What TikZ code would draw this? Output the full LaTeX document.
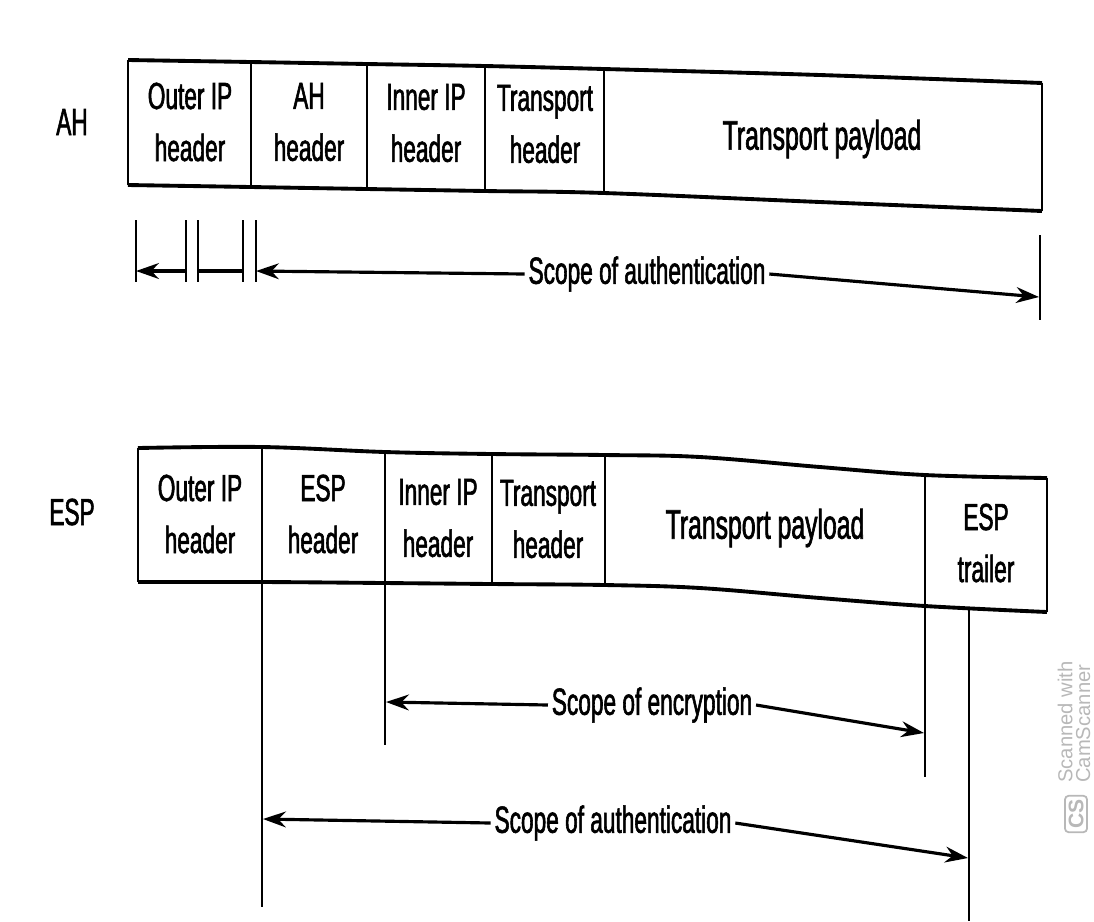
\documentclass[tikz,border=0pt]{standalone}
\usepackage{fontspec}
\setmainfont{Liberation Sans}[FakeStretch=0.6, FakeBold=1.5]
\newfontfamily\wmfont{Liberation Sans}
\usetikzlibrary{arrows.meta}

\begin{document}
\begin{tikzpicture}[x=0.02cm, y=-0.02cm,
    every node/.style={font=\fontsize{21.5}{29.6}\selectfont, inner sep=2pt},
    cell/.style={align=center},
    payload/.style={font=\fontsize{23.5}{28}\selectfont},
    rim/.style={line width=2.2pt},
    wall/.style={line width=1.1pt},
    guide/.style={line width=1.1pt},
    scopeline/.style={line width=1.8pt},
    scopearrow/.style={scopeline, -{Stealth[length=13pt,width=9pt]}}
  ]
  \useasboundingbox (0,0) rectangle (1094,921);

  % AH packet
  \foreach \n/\x/\t/\b in {0/128/60/185, 1/251/62/187, 2/367/64/189,
                           3/485/66/191, 4/604/69/193, 5/1042/83/211} {
    \coordinate (aht\n) at (\x,\t);
    \coordinate (ahb\n) at (\x,\b);
  }
  \draw[rim] plot[smooth, tension=.6] coordinates {(aht0) (aht1) (aht2) (aht3) (aht4) (820,75) (aht5)};
  \draw[rim] plot[smooth, tension=.6] coordinates {(ahb0) (ahb1) (ahb2) (ahb3) (ahb4) (820,202) (ahb5)};
  \foreach \n in {0,...,5} \draw[wall] (aht\n) -- (ahb\n);

  \node (ahlabel) at (72,122) {AH};
  \node[cell] (ahouter) at (190,122) {Outer IP\\header};
  \node[cell] (ahhdr) at (309,122) {AH\\header};
  \node[cell] (ahinner) at (426,123) {Inner IP\\header};
  \node[cell] (ahtrans) at (545,124) {Transport\\header};
  \node[payload] (ahpay) at (822,139) {Transport payload};

  % AH scope
  \foreach \x in {136,186,198,243,256} {
    \draw[guide] (\x,220) -- (\x,282);
    \coordinate (k\x) at (\x,271);
  }
  \draw[guide] (1040,235) -- (1040,320);
  \coordinate (kr) at (1039,297);
  \node (ahscope) at (647,274) {Scope of authentication};
  \draw[scopearrow] (ahscope.west) -- (k256);
  \draw[scopeline] (k243) -- (k198);
  \draw[scopearrow] (k186) -- (k136);
  \draw[scopearrow] (ahscope.east) -- (kr);

  % ESP packet
  \foreach \n/\x/\t/\b in {0/138/448/582, 1/262/447/582, 2/385/452/583, 3/492/454/584,
                           4/605/455/585, 5/925/475/606, 6/1047/478/612} {
    \coordinate (espt\n) at (\x,\t);
    \coordinate (espb\n) at (\x,\b);
  }
  \draw[rim] plot[smooth, tension=.6] coordinates {(espt0) (espt1) (espt2) (espt3) (espt4) (700,457) (820,467) (espt5) (espt6)};
  \draw[rim] plot[smooth, tension=.6] coordinates {(espb0) (espb1) (espb2) (espb3) (espb4) (700,588) (820,598) (espb5) (espb6)};
  \foreach \n in {0,...,6} \draw[wall] (espt\n) -- (espb\n);

  \node (esplabel) at (72,512) {ESP};
  \node[cell] (espouter) at (200,514) {Outer IP\\header};
  \node[cell] (esphdr) at (323,514) {ESP\\header};
  \node[cell] (espinner) at (438,518) {Inner IP\\header};
  \node[cell] (esptrans) at (548,519) {Transport\\header};
  \node[payload] (esppay) at (765,528) {Transport payload};
  \node[cell] (esptrl) at (986,543) {ESP\\trailer};

  % ESP scopes
  \coordinate (auth-end) at (969,609);
  \draw[guide] (espb1) -- (262,907);
  \draw[guide] (espb2) -- (385,745);
  \draw[guide] (espb5) -- (925,777);
  \draw[guide] (auth-end) -- (969,921);
  \coordinate (encl) at (386,702);
  \coordinate (encr) at (924,733);
  \coordinate (authl) at (263,819);
  \coordinate (authr) at (968,858);
  \node (encscope) at (652,705) {Scope of encryption};
  \draw[scopearrow] (encscope.west) -- (encl);
  \draw[scopearrow] (encscope.east) -- (encr);
  \node (authscope) at (613,823) {Scope of authentication};
  \draw[scopearrow] (authscope.west) -- (authl);
  \draw[scopearrow] (authscope.east) -- (authr);

  % scanner mark
  \node[rotate=90, align=left, text=black!28, font=\wmfont\fontsize{11.5}{10}\selectfont] (wm) at (1074,722) {Scanned with\\CamScanner};
  \node[rotate=90, draw=black!28, rounded corners=2pt, line width=1pt, text=black!28,
        font=\wmfont\bfseries\fontsize{12}{12}\selectfont] (wmcs) at (1076,814) {CS};
\end{tikzpicture}
\end{document}
